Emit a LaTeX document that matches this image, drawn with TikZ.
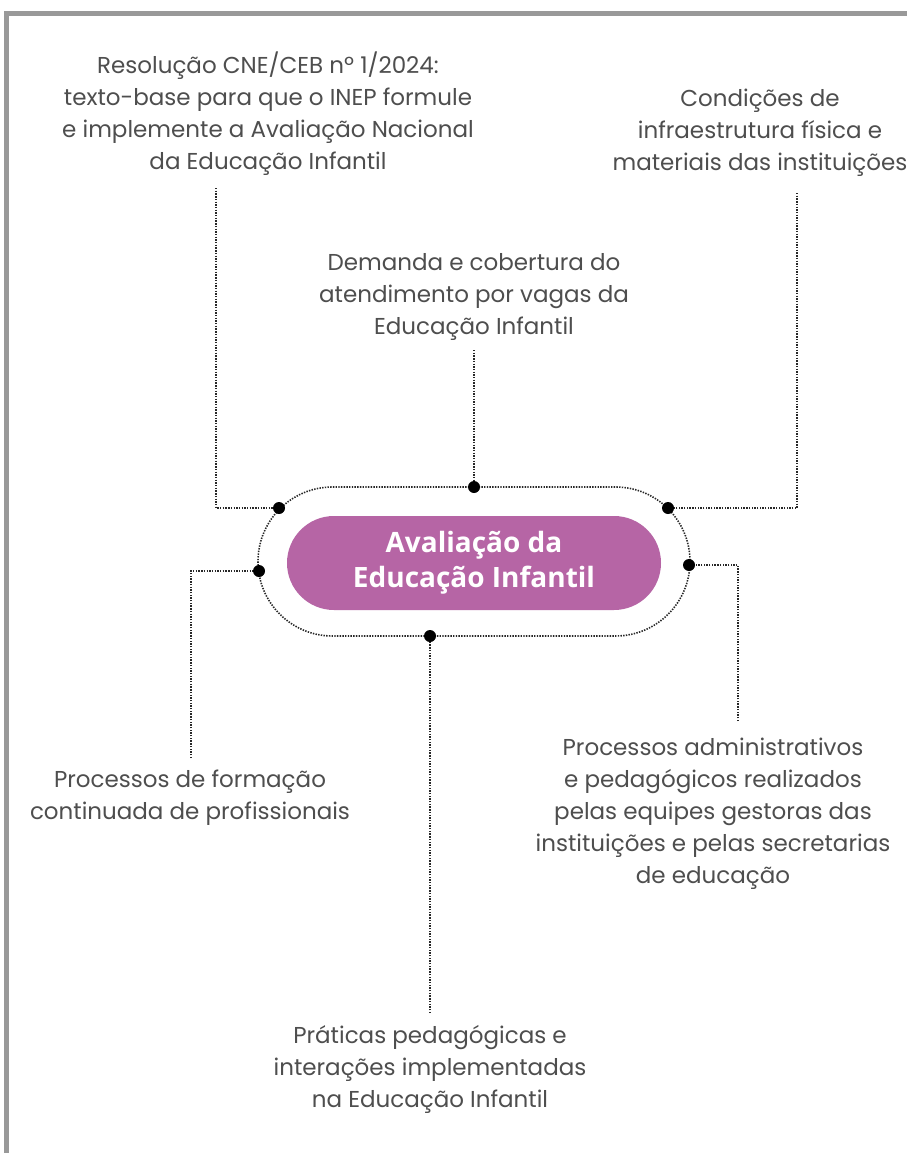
\documentclass[tikz,border=0pt]{standalone}
\usepackage{fontspec}
\setmainfont{Poppins}
\newfontfamily\headfont{Open Sans}
\usetikzlibrary{shapes.misc}
\definecolor{txtgray}{RGB}{78,78,78}
\definecolor{framegray}{RGB}{153,153,153}
\definecolor{plum}{RGB}{182,101,165}
\definecolor{dotgray}{RGB}{40,40,40}
\tikzset{
  lbl/.style={text=txtgray, align=center, inner sep=0pt, font=\fontsize{23}{32}\selectfont},
  dl/.style={draw=dotgray, line width=2.2pt, dash pattern=on 1.4pt off 1.3pt},
  dotc/.style={circle, fill=black, minimum size=12pt, inner sep=0pt},
  core/.style={rounded rectangle, fill=plum, minimum width=374pt, minimum height=94pt, text=white, align=center, inner sep=0pt, font=\headfont\bfseries\fontsize{28}{35}\selectfont},
}
\begin{document}
\begin{tikzpicture}[x=1pt,y=-1pt]
\useasboundingbox (0,0) rectangle (907,1153);
\fill[white] (0,0) rectangle (907,1153);
\clip (0,0) rectangle (907,1153);
% frame
\fill[framegray] (4,11) rectangle (907,16);
\fill[framegray] (4,11) rectangle (9,1153);

% outer stadium
\draw[dl, line width=1.6pt] (258,487) [rounded corners=74.5pt] rectangle (690,636);
% inner
\node[core] (core) at (474,563) {Avaliação da\\Educação Infantil};

% dots
\node[dotc] (dtl) at (279,508) {};
\node[dotc] (dtop) at (474,487) {};
\node[dotc] (dtr) at (668,508) {};
\node[dotc] (dl) at (259,571) {};
\node[dotc] (dr) at (689,565) {};
\node[dotc] (db) at (430,636) {};

% labels
\node[lbl] (t1) at (268,114) {Resolução CNE/CEB nº 1/2024:\\texto-base para que o INEP formule\\e implemente a Avaliação Nacional\\da Educação Infantil};
\node[lbl] (t2) at (760,133) {Condições de\\infraestrutura física e\\materiais das instituições};
\node[lbl] (t3) at (474,297) {Demanda e cobertura do\\atendimento por vagas da\\Educação Infantil};
\node[lbl] (t4) at (713,814) {Processos administrativos\\e pedagógicos realizados\\pelas equipes gestoras das\\instituições e pelas secretarias\\de educação};
\node[lbl] (t5) at (190,798) {Processos de formação\\continuada de profissionais};
\node[lbl] (t6) at (430,1069) {Práticas pedagógicas e\\interações implementadas\\na Educação Infantil};

% connector ends
\coordinate (e1) at (216,188);
\coordinate (e2) at (797,193);
\coordinate (e3) at (474,350);
\coordinate (e4) at (738,721);
\coordinate (e5) at (191,758);
\coordinate (e6) at (430,1013);

\draw[dl] (e1) |- (dtl);
\draw[dl] (e2) |- (dtr);
\draw[dl] (e3) -- (dtop);
\draw[dl] (e4) |- (dr);
\draw[dl] (e5) |- (dl);
\draw[dl] (e6) -- (db);
\end{tikzpicture}
\end{document}
